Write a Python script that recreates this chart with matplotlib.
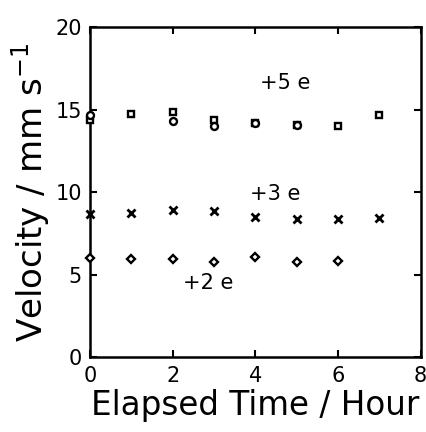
import matplotlib
matplotlib.use('Agg')
import matplotlib.pyplot as plt

# data
hours = [0, 1, 2, 3, 4, 5, 6, 7]
v5_sq = [14.4, 14.75, 14.86, 14.4, 14.2, 14.1, 14.0, 14.7]
hours5_c = [0, 2, 3, 4, 5]
v5_c = [14.7, 14.3, 14.0, 14.2, 14.05]
v3 = [8.68, 8.72, 8.94, 8.86, 8.5, 8.38, 8.38, 8.44]
hours2 = [0, 1, 2, 3, 4, 5, 6]
v2 = [6.05, 5.97, 5.95, 5.79, 6.1, 5.8, 5.87]

fig = plt.figure(figsize=(4.27, 4.32), dpi=100)
ax = fig.add_axes([0.211, 0.1725, 0.774, 0.7645])

ax.plot(hours, v5_sq, 's', ls='none', ms=5, mfc='white', mec='black', mew=1.7, clip_on=False, zorder=3)
ax.plot(hours5_c, v5_c, 'o', ls='none', ms=5, mfc='white', mec='black', mew=1.7, clip_on=False, zorder=3)
ax.plot(hours, v3, 'x', ls='none', ms=5.5, mec='black', mew=2, clip_on=False, zorder=3)
ax.plot(hours2, v2, 'D', ls='none', ms=4, mfc='white', mec='black', mew=1.7, clip_on=False, zorder=3)

ax.text(4.72, 16.6, '+5 e', fontsize=15, ha='center', va='center')
ax.text(4.48, 9.9, '+3 e', fontsize=15, ha='center', va='center')
ax.text(2.86, 4.5, '+2 e', fontsize=15, ha='center', va='center')

ax.set_xlim(0, 8)
ax.set_ylim(0, 20)
ax.set_xticks([0, 2, 4, 6, 8])
ax.set_yticks([0, 5, 10, 15, 20])
ax.tick_params(direction='in', top=True, right=True, length=5, width=1.5, labelsize=15, pad=6)
for s in ax.spines.values():
    s.set_linewidth(1.8)

ax.set_xlabel('Elapsed Time / Hour', fontsize=23.5, labelpad=2)
ax.set_ylabel('Velocity / mm s$^{-1}$', fontsize=24.5, labelpad=2)

fig.savefig('out.png', dpi=100)
